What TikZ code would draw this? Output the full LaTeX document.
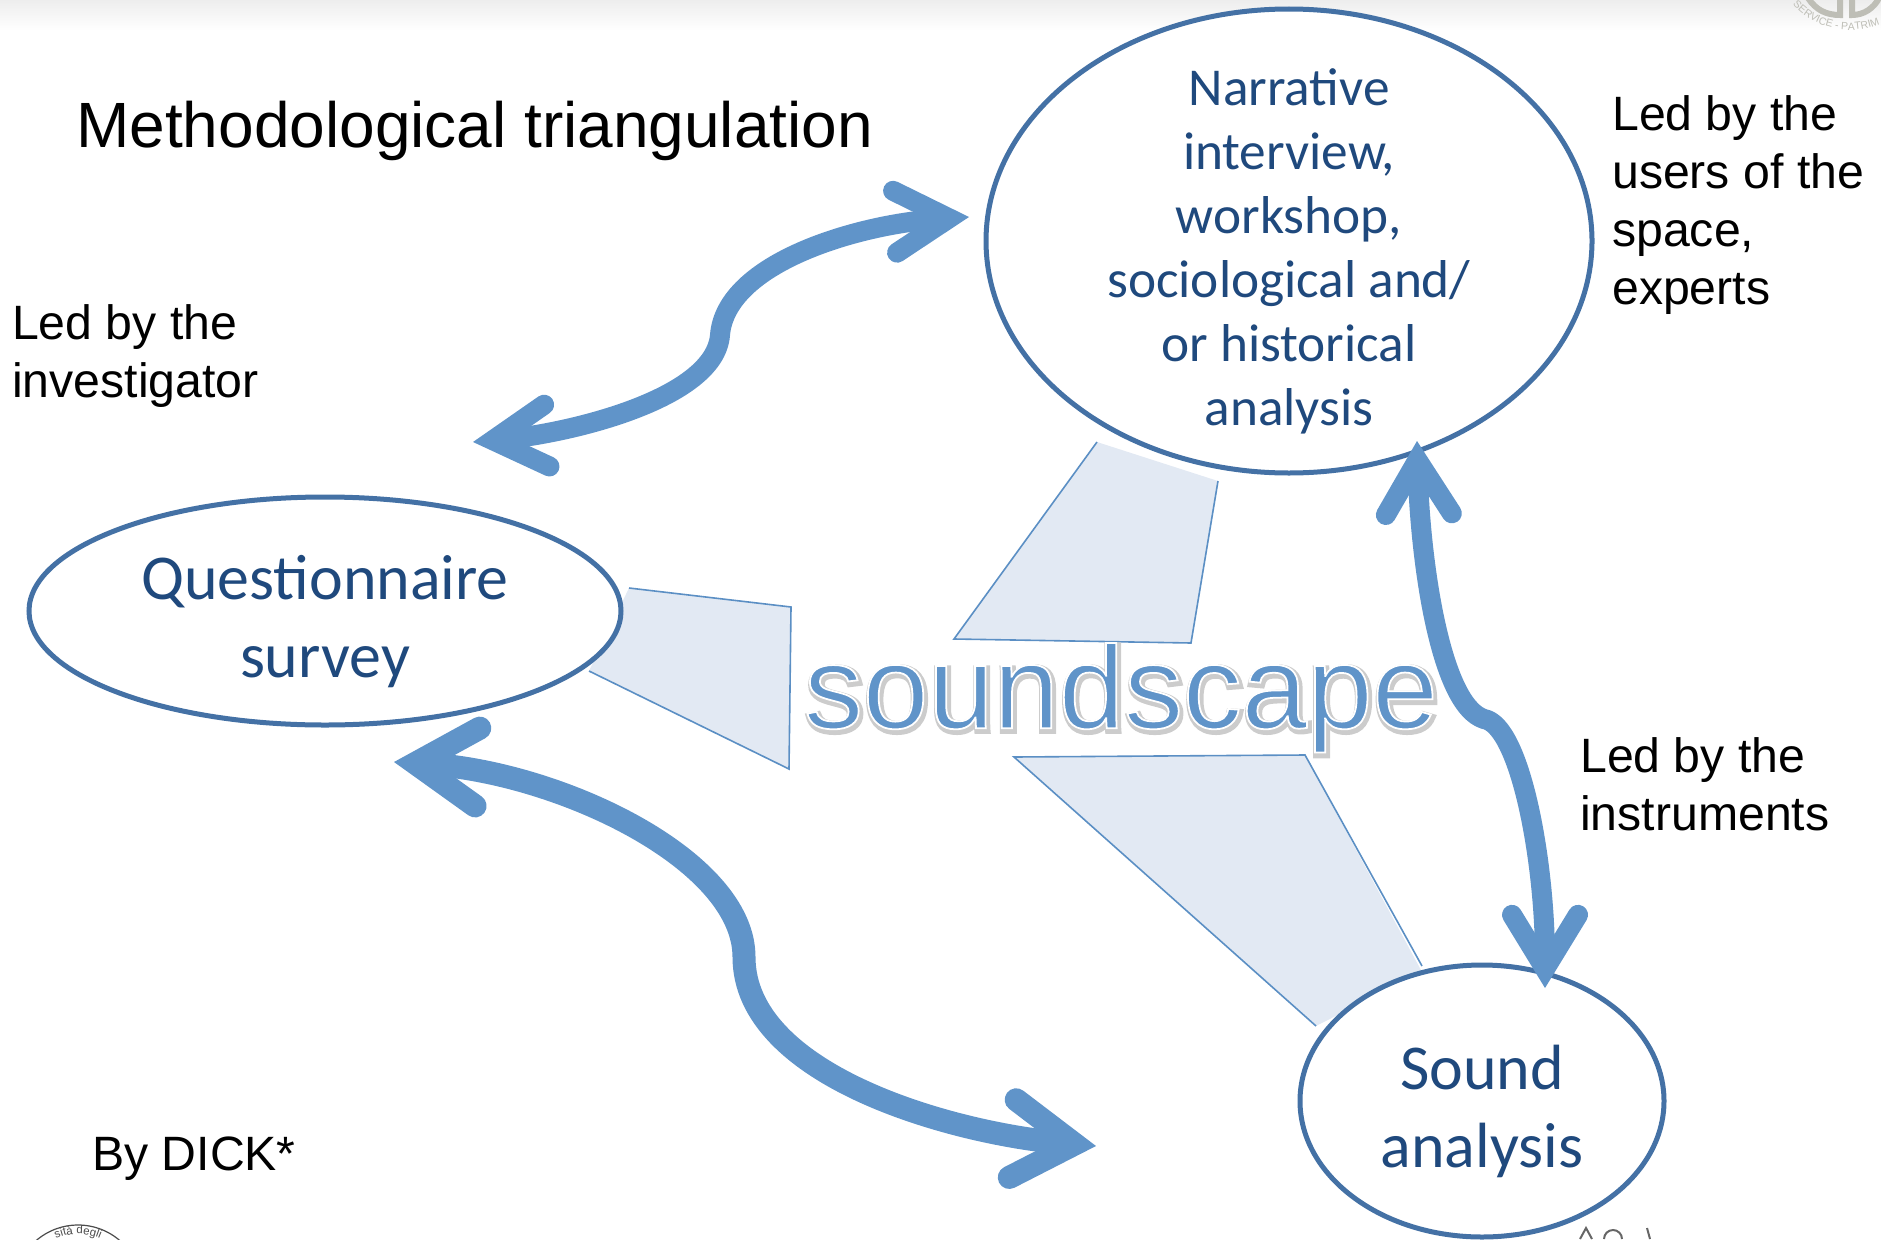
\documentclass[tikz,border=0pt]{standalone}
\usepackage{fontspec}
\usetikzlibrary{arrows.meta,decorations.text,shapes.geometric}
\setmainfont{Liberation Sans}
\newfontfamily\carlito{Carlito}
\newfontfamily\halofont[FakeBold=1.5]{Liberation Sans}
\newfontfamily\glowfont[FakeBold=5.5]{Liberation Sans}
\definecolor{arrowblue}{RGB}{96,148,201}
\definecolor{ringblue}{RGB}{68,113,165}
\definecolor{inkblue}{RGB}{31,73,125}
\definecolor{panelfill}{RGB}{226,233,243}
\definecolor{panelline}{RGB}{91,143,196}
\definecolor{sealgrey}{RGB}{190,190,182}
\definecolor{glowgrey}{RGB}{205,205,205}
\definecolor{shadowgrey}{RGB}{196,196,196}
\newcommand{\topictext}[1]{\makebox[0pt]{\smash{\raisebox{-16.5pt}{\parbox[c]{580pt}{\centering #1}}}}}
\newcommand{\scapeword}{soundscape}
\tikzset{
  x=1pt,y=-1pt,
  topic/.style={ellipse,draw=ringblue,line width=5pt,fill=white,inner sep=0pt,text=inkblue},
  panelarea/.style={fill=panelfill,draw=none},
  paneledge/.style={draw=panelline,line width=1.6pt,line join=miter},
  tips/.style n args={2}{{Straight Barb[line cap=round,line join=miter,length=#1,width=#2]}-{Straight Barb[line cap=round,line join=miter,length=#1,width=#2]}},
  link/.style n args={3}{line width=#1,draw=arrowblue,line cap=round,line join=round,
    tips={#2}{#3},
    preaction={draw=shadowgrey,transform canvas={shift={(2.5pt,-3pt)}}}},
  note/.style={anchor=west,inner sep=0pt,align=left,text=black,font=\fontsize{48.2}{58}\selectfont},
}
\begin{document}
\begin{tikzpicture}
\useasboundingbox (0,0) rectangle (1881,1239);
\clip (0,0) rectangle (1881,1239);
\fill[top color=black!7,bottom color=white] (0,0) rectangle (1881,30);

% seal fragments
\draw[sealgrey,line width=6pt] (1808,-2) .. controls (1816,10) and (1826,15) .. (1840,15) -- (1840,-2);
\draw[sealgrey,line width=6pt] (1852,-2) -- (1852,15) .. controls (1864,15) and (1874,8) .. (1879,-2);
\path[decorate,decoration={text along path,text align=left,
  text={|\fontsize{10.5}{11}\selectfont\color{sealgrey}|SERVICE - PATRIM}}]
  (1850,-47) ++(-222:77) arc[start angle=-222,end angle=-340,radius=77];
\draw[black!70,line width=1.2pt] (78,1289) ++(-135:64) arc[start angle=-135,end angle=-45,radius=64];
\path[decorate,decoration={text along path,text align=center,
  text={|\fontsize{11.5}{12}\selectfont\color{black!70}|sità degli}}]
  (78,1289) ++(-118:55) arc[start angle=-118,end angle=-62,radius=55];
\draw[black!60,line width=2pt] (1580,1239) -- (1586,1228) -- (1592,1239);
\draw[black!60,line width=2pt] (1604,1239) arc[start angle=180,end angle=360,radius=9];
\draw[black!60,line width=2pt] (1647,1228) -- (1650,1239);

% panels
\path[panelarea] (1097,442) -- (1218,481) -- (1191,643) -- (954,639) -- cycle;
\draw[paneledge] (1097,442) -- (954,639) -- (1191,643) -- (1218,481);
\path[panelarea] (629,588) -- (791,607) -- (789,769) -- (589,671) -- cycle;
\draw[paneledge] (629,588) -- (791,607) -- (789,769) -- (589,671);
\path[panelarea] (1014,757) -- (1305,755) -- (1422,972) -- (1316,1026) -- cycle;
\draw[paneledge] (1422,966) -- (1305,755) -- (1014,757) -- (1316,1026);

% topics
\node[topic,minimum width=606pt,minimum height=464pt,font=\fontsize{53.3}{64}\selectfont\carlito] (narr) at (1289,241)
  {\topictext{Narrative\\interview,\\workshop,\\sociological and/\\or historical\\analysis}};
\node[topic,minimum width=592pt,minimum height=228pt,font=\fontsize{63.9}{78}\selectfont\carlito] (quest) at (325,611)
  {\topictext{Questionnaire\\survey}};
\node[topic,minimum width=364pt,minimum height=272pt,font=\fontsize{63.9}{78}\selectfont\carlito] (sound) at (1482,1101)
  {\topictext{Sound\\analysis}};

% links
\coordinate (aN) at (969,217);
\coordinate (aQ) at (473,442);
\coordinate (bQ) at (394,762);
\coordinate (bS) at (1096,1146);
\coordinate (cN) at (1417,441);
\coordinate (cS) at (1545,988);
\draw[link={20pt}{54pt}{62pt}] (aN) .. controls (860,224) and (726,262) .. (720,335)
   .. controls (715,400) and (565,434) .. (aQ);
\draw[link={23pt}{62pt}{78pt}] (bQ) .. controls (560,772) and (744,860) .. (744,957)
   .. controls (744,1075) and (950,1133) .. (bS);
\draw[link={20pt}{54pt}{66pt}] (cN) .. controls (1420,560) and (1440,705) .. (1484,719)
   .. controls (1520,725) and (1545,860) .. (cS);

% texts
\node[anchor=west,inner sep=0pt,font=\fontsize{64}{70}\selectfont] (title) at (76,131) {Methodological triangulation};
\node[note] (n1) at (1612,205) {Led by the\\users of the\\space,\\experts};
\node[note] (n2) at (12,356) {Led by the\\investigator};
\node[note] (n3) at (1580,784) {Led by the\\instruments};
\node[note] (n4) at (92,1159) {By DICK*};
\node[anchor=center,inner sep=0pt] (scape) at (1121,699)
  {\fontsize{117.5}{120}\selectfont
   \rlap{\kern1.5pt\raisebox{-2.5pt}{\glowfont\color{glowgrey}\special{pdf:code 0.8 0.8 0.8 RG}\scapeword}}%
   {\halofont\color{arrowblue}\special{pdf:code 1 1 1 RG}\scapeword}};
\end{tikzpicture}
\end{document}
